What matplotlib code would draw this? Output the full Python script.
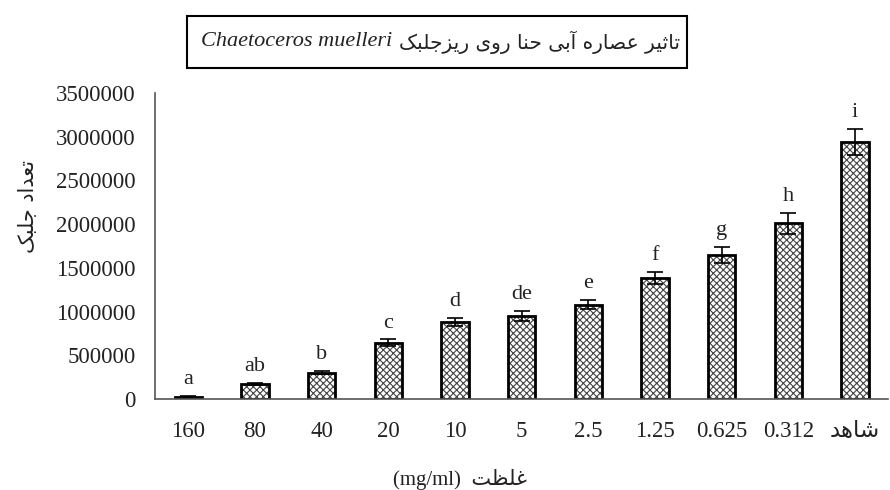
import matplotlib
matplotlib.use('Agg')
import matplotlib.pyplot as plt
from matplotlib.ticker import FuncFormatter
from matplotlib.offsetbox import TextArea, HPacker, DrawingArea, AnchoredOffsetbox

# Persian letters -> (isolated, final, initial, medial) presentation forms
FORMS = {
    'ا': ('\uFE8D', '\uFE8E', None, None),
    'آ': ('\uFE81', '\uFE82', None, None),
    'ب': ('\uFE8F', '\uFE90', '\uFE91', '\uFE92'),
    'ت': ('\uFE95', '\uFE96', '\uFE97', '\uFE98'),
    'ث': ('\uFE99', '\uFE9A', '\uFE9B', '\uFE9C'),
    'ج': ('\uFE9D', '\uFE9E', '\uFE9F', '\uFEA0'),
    'ح': ('\uFEA1', '\uFEA2', '\uFEA3', '\uFEA4'),
    'د': ('\uFEA9', '\uFEAA', None, None),
    'ر': ('\uFEAD', '\uFEAE', None, None),
    'ز': ('\uFEAF', '\uFEB0', None, None),
    'ش': ('\uFEB5', '\uFEB6', '\uFEB7', '\uFEB8'),
    'ص': ('\uFEB9', '\uFEBA', '\uFEBB', '\uFEBC'),
    'ظ': ('\uFEC5', '\uFEC6', '\uFEC7', '\uFEC8'),
    'ع': ('\uFEC9', '\uFECA', '\uFECB', '\uFECC'),
    'غ': ('\uFECD', '\uFECE', '\uFECF', '\uFED0'),
    'ل': ('\uFEDD', '\uFEDE', '\uFEDF', '\uFEE0'),
    'ن': ('\uFEE5', '\uFEE6', '\uFEE7', '\uFEE8'),
    'ه': ('\uFEE9', '\uFEEA', '\uFEEB', '\uFEEC'),
    'و': ('\uFEED', '\uFEEE', None, None),
    'ک': ('\uFB8E', '\uFB8F', '\uFB90', '\uFB91'),
    'ی': ('\uFBFC', '\uFBFD', '\uFBFE', '\uFBFF'),
}


def joins_next(ch):
    return ch in FORMS and FORMS[ch][2] is not None


def shape(text):
    """join persian letters and return them in visual (left to right) order"""
    if not any(ch in FORMS for ch in text):
        return text
    out = []
    for i, ch in enumerate(text):
        if ch not in FORMS:
            out.append(ch)
            continue
        prev = text[i - 1] if i > 0 else ''
        nxt = text[i + 1] if i + 1 < len(text) else ''
        p = joins_next(prev)
        n = joins_next(ch) and nxt in FORMS
        if p and n:
            out.append(FORMS[ch][3])
        elif p:
            out.append(FORMS[ch][1])
        elif n:
            out.append(FORMS[ch][2])
        else:
            out.append(FORMS[ch][0])
    return ''.join(reversed(out))


categories = ['160', '80', '40', '20', '10', '5', '2.5', '1.25', '0.625', '0.312', 'شاهد']
cell_counts = [20000, 170000, 300000, 640000, 880000, 950000, 1080000, 1380000, 1650000, 2010000, 2940000]
errors = [10000, 15000, 20000, 40000, 50000, 60000, 50000, 70000, 90000, 120000, 150000]
letters = ['a', 'ab', 'b', 'c', 'd', 'de', 'e', 'f', 'g', 'h', 'i']
yticks = [0, 500000, 1000000, 1500000, 2000000, 2500000, 3000000, 3500000]

title_fa = 'تاثیر عصاره آبی حنا روی ریزجلبک'
title_latin = 'Chaetoceros muelleri'
ylabel_fa = 'تعداد جلبک'
xlabel_fa = 'غلظت'

plt.rcParams['font.family'] = ['Liberation Serif', 'DejaVu Sans']
plt.rcParams['hatch.linewidth'] = 0.8

fig = plt.figure(figsize=(8.9, 4.9), dpi=100)
ax = fig.add_axes([0.174, 0.186, 0.824, 0.624])

x = list(range(len(categories)))
ax.bar(x, cell_counts, width=0.41, color='white', edgecolor='#444444', hatch='xxxxx', linewidth=0)
ax.bar(x, cell_counts, width=0.41, fill=False, edgecolor='black', linewidth=2)
ax.errorbar(x, cell_counts, yerr=errors, fmt='none', ecolor='black', elinewidth=1.2, capsize=6, capthick=1.2)

for xi, v, e, lab in zip(x, cell_counts, errors, letters):
    ax.annotate(lab, (xi, v + e), xytext=(0, 5), textcoords='offset points',
                ha='center', va='bottom', fontsize=16, color='#222222')

ax.set_xlim(-0.5, len(categories) - 0.5)
ax.set_ylim(0, 3500000)
ax.set_yticks(yticks)
ax.yaxis.set_major_formatter(FuncFormatter(lambda v, p: f'{int(v)}'))
ax.set_xticks(x)
ax.set_xticklabels([shape(c) for c in categories])
ax.tick_params(axis='both', length=0, labelsize=16.5, colors='#222222')
ax.tick_params(axis='y', pad=14)
ax.tick_params(axis='x', pad=16)

for side in ['top', 'right']:
    ax.spines[side].set_visible(False)
for side in ['left', 'bottom']:
    ax.spines[side].set_color('#555555')
    ax.spines[side].set_linewidth(1.2)

fig.text(0.032, 0.578, shape(ylabel_fa), rotation=90, ha='center', va='center',
         fontsize=15, family='DejaVu Sans', color='#222222')
fig.text(0.517, 0.022, '(mg/ml)  ' + shape(xlabel_fa), ha='center', va='center',
         fontsize=15, color='#222222')

# boxed title: italic species name then persian text
t1 = TextArea(title_latin, textprops=dict(fontsize=16, style='italic', color='#222222'))
t2 = TextArea(shape(title_fa), textprops=dict(fontsize=14.5, family='DejaVu Sans', color='#222222'))
strut = DrawingArea(0, 28)
title_box = HPacker(children=[strut, t1, t2], align='center', pad=0, sep=5)
anchored = AnchoredOffsetbox(loc='center', child=title_box, pad=0.5, borderpad=0, frameon=True,
                             bbox_to_anchor=(437 / 890, 1 - 42 / 490), bbox_transform=fig.transFigure)
anchored.patch.set_edgecolor('black')
anchored.patch.set_linewidth(1.5)
fig.add_artist(anchored)

fig.savefig('out.png', dpi=100)
